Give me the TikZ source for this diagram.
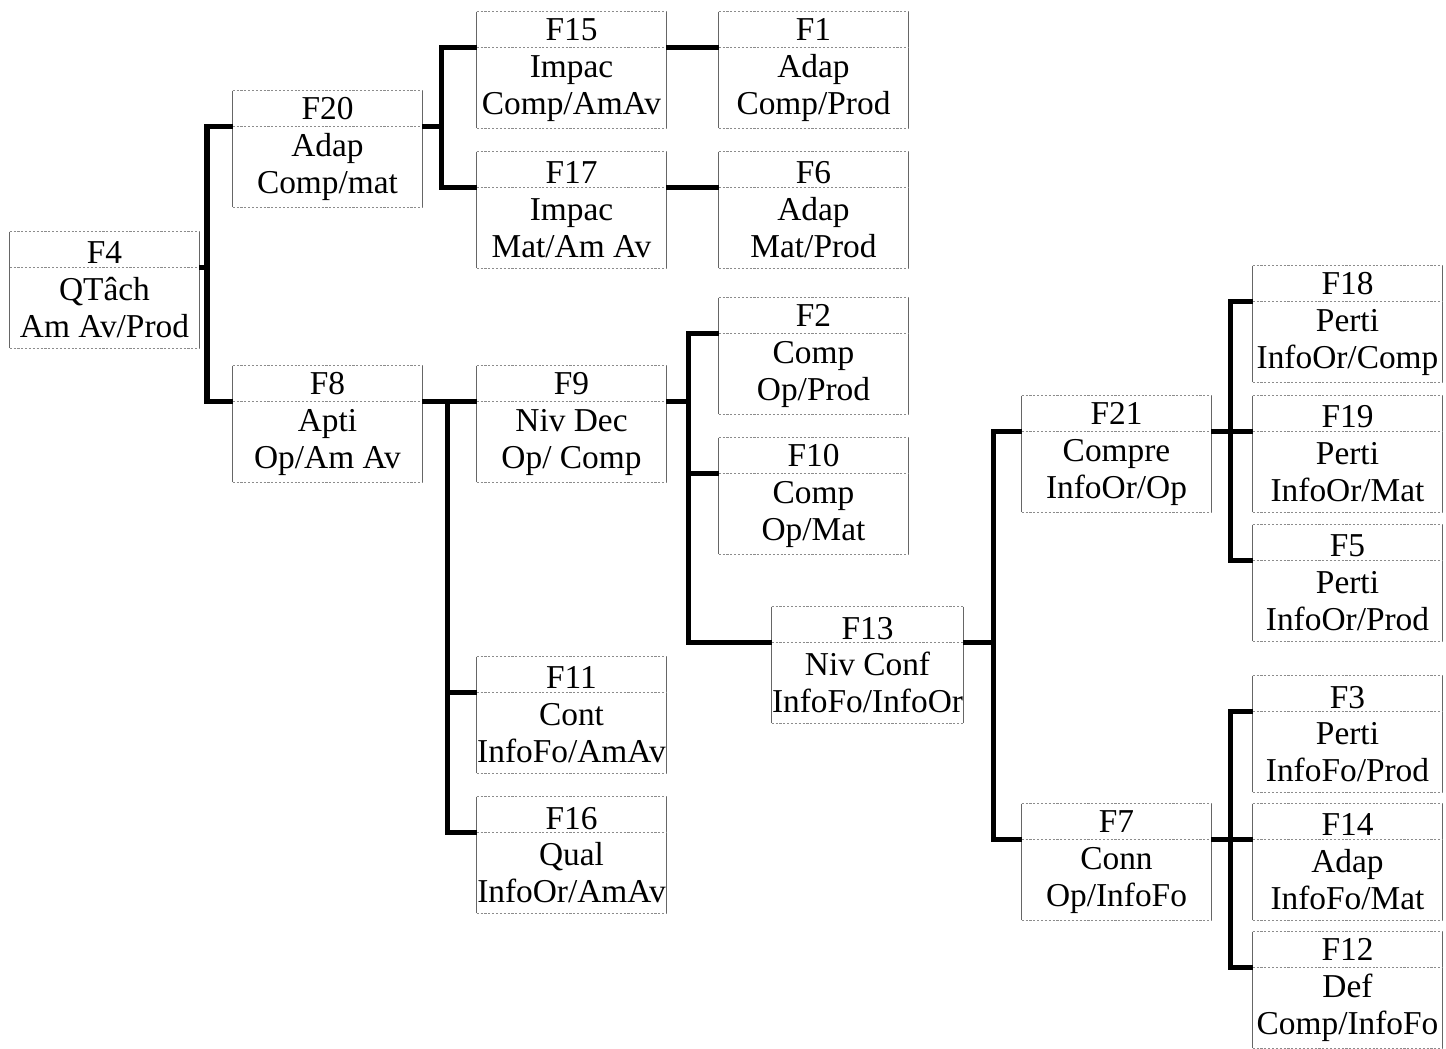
\documentclass[tikz,border=0pt]{standalone}
\usepackage{fontspec}
\setmainfont{Liberation Serif}
\usetikzlibrary{calc}
\definecolor{bordgris}{gray}{0.40}
\definecolor{pointgris}{gray}{0.55}
\tikzset{
  bloc/.style={draw=none, inner sep=0pt, minimum width=3.78cm, minimum height=2.32cm,
    align=center, font=\fontsize{19}{21}\selectfont},
  cote/.style={draw=bordgris, line width=0.5pt},
  trait/.style={draw=pointgris, line width=0.6pt, dash pattern=on 1.2pt off 1pt},
  lien/.style={line width=3.2pt, line join=miter}
}
\begin{document}
\begin{tikzpicture}[x=0.02cm,y=-0.02cm]
\useasboundingbox (0,0) rectangle (1446,1048);

\node[bloc] (F4)  at (104.5,290)  {F4\\QTâch\\Am Av/Prod};
\node[bloc] (F20) at (327.5,149)  {F20\\Adap\\Comp/mat};
\node[bloc] (F8)  at (327.5,424)  {F8\\Apti\\Op/Am Av};
\node[bloc] (F15) at (571.5,70)   {F15\\Impac\\Comp/AmAv};
\node[bloc] (F17) at (571.5,210)  {F17\\Impac\\Mat/Am Av};
\node[bloc] (F1)  at (813.5,70)   {F1\\Adap\\Comp/Prod};
\node[bloc] (F6)  at (813.5,210)  {F6\\Adap\\Mat/Prod};
\node[bloc] (F9)  at (571.5,424)  {F9\\Niv Dec\\Op/ Comp};
\node[bloc] (F11) at (571.5,715)  {F11\\Cont\\InfoFo/AmAv};
\node[bloc] (F16) at (571.5,855)  {F16\\Qual\\InfoOr/AmAv};
\node[bloc] (F2)  at (813.5,356)  {F2\\Comp\\Op/Prod};
\node[bloc] (F10) at (813.5,496)  {F10\\Comp\\Op/Mat};
\node[bloc] (F13) at (867.5,665)  {F13\\Niv Conf\\InfoFo/InfoOr};
\node[bloc] (F21) at (1116.5,454) {F21\\Compre\\InfoOr/Op};
\node[bloc] (F7)  at (1116.5,862) {F7\\Conn\\Op/InfoFo};
\node[bloc] (F18) at (1347.5,324) {F18\\Perti\\InfoOr/Comp};
\node[bloc] (F19) at (1347.5,454) {F19\\Perti\\InfoOr/Mat};
\node[bloc] (F5)  at (1347.5,583) {F5\\Perti\\InfoOr/Prod};
\node[bloc] (F3)  at (1347.5,734) {F3\\Perti\\InfoFo/Prod};
\node[bloc] (F14) at (1347.5,862) {F14\\Adap\\InfoFo/Mat};
\node[bloc] (F12) at (1347.5,990) {F12\\Def\\Comp/InfoFo};

% cadres et separations
\foreach \n in {F4,F20,F8,F15,F17,F1,F6,F9,F11,F16,F2,F10,F13,F21,F7,F18,F19,F5,F3,F14,F12} {
  \coordinate (\n-l) at ($(\n.north west)+(0,36)$);
  \coordinate (\n-r) at ($(\n.north east)+(0,36)$);
  \draw[cote] (\n.north west) -- (\n.south west) (\n.north east) -- (\n.south east);
  \draw[trait] (\n.north west) -- (\n.north east) (\n-l) -- (\n-r) (\n.south west) -- (\n.south east);
}

% liaisons
\draw[lien] (F4-r) -- ++(7.5,0) coordinate (t4);
\draw[lien] (F20-l) -| (t4) |- (F8-l);

\draw[lien] (F20-r) -- ++(19,0) coordinate (t20);
\draw[lien] (F15-l) -| (t20) |- (F17-l);
\draw[lien] (F15-r) -- (F1-l);
\draw[lien] (F17-r) -- (F6-l);

\draw[lien] (F8-r) -- (F9-l);
\coordinate (t8) at ($(F8-r)+(25,0)$);
\draw[lien] (t8) |- (F11-l);
\draw[lien] (t8) |- (F16-l);

\draw[lien] (F9-r) -- ++(22,0) coordinate (t9);
\draw[lien] (F2-l) -| (t9) |- (F13-l);
\draw[lien] (t9) |- (F10-l);

\draw[lien] (F13-r) -- ++(30,0) coordinate (t13);
\draw[lien] (F21-l) -| (t13) |- (F7-l);

\draw[lien] (F21-r) -- (F19-l);
\coordinate (t21) at ($(F21-r)+(19,0)$);
\draw[lien] (F18-l) -| (t21) |- (F5-l);

\draw[lien] (F7-r) -- (F14-l);
\coordinate (t7) at ($(F7-r)+(19,0)$);
\draw[lien] (F3-l) -| (t7) |- (F12-l);
\end{tikzpicture}
\end{document}
